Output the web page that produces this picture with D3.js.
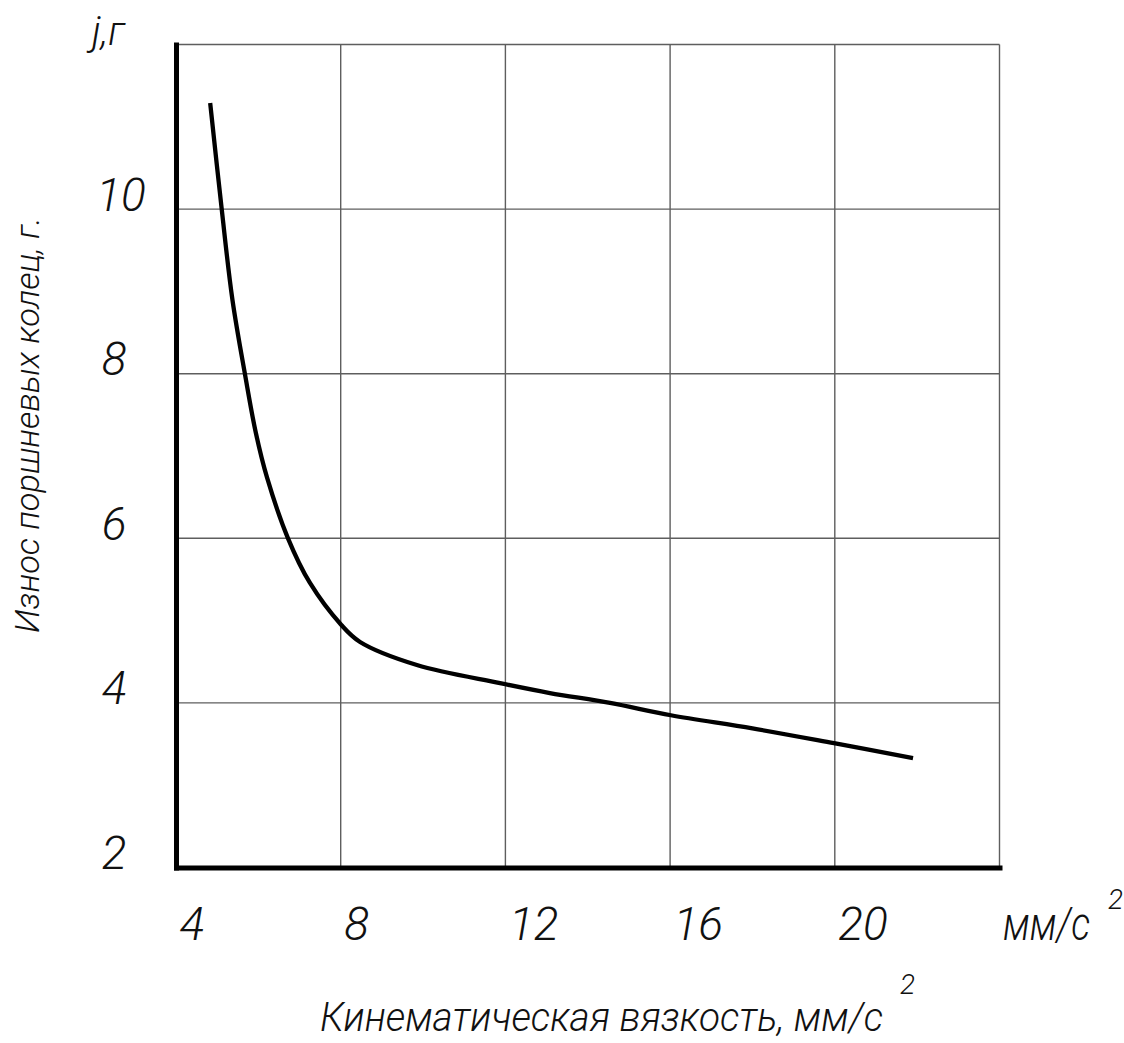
<!DOCTYPE html>
<html><head><meta charset="utf-8">
<script src="https://cdn.jsdelivr.net/npm/d3@7"></script>
<style>
html,body{margin:0;padding:0;background:#fff;}
svg{display:block;}
text{font-family:Roboto,"Noto Sans","DejaVu Sans",sans-serif;font-style:italic;font-weight:300;fill:#111;}
</style></head><body>
<svg id="chart" width="1124" height="1043"></svg>
<script>
// Data
const viscosity = [4.83, 5.11, 5.37, 5.68, 5.94, 6.21, 6.72, 7.25, 8.01, 8.47, 9.85, 11.87, 13.08, 14.54, 16.02, 18.00, 19.98, 21.90];
const wear      = [11.29, 10.00, 8.90, 7.98, 7.28, 6.74, 6.00, 5.46, 4.95, 4.74, 4.46, 4.24, 4.12, 4.00, 3.85, 3.69, 3.51, 3.33];
const xTicks = [4, 8, 12, 16, 20];
const yTicks = [2, 4, 6, 8, 10];
const xGrid = [8, 12, 16, 20, 24];
const yGrid = [4, 6, 8, 10, 12];
const xDomain = [4, 24];
const yDomain = [2, 12];
const yUnitLabel = "j,г";
const xUnitLabel = "мм/с";
const xTitle = "Кинематическая вязкость, мм/с";
const yTitle = "Износ поршневых колец, г.";
const superscript = "2";

const svg = d3.select("#chart");
const x = d3.scaleLinear().domain(xDomain).range([176, 999.5]);
const y = d3.scaleLinear().domain(yDomain).range([867.5, 44.5]);

// grid
const grid = svg.append("g").attr("stroke", "#5e5e5e").attr("stroke-width", 1.4);
grid.selectAll("line.v").data(xGrid).join("line").attr("class", "v")
  .attr("x1", d => x(d)).attr("x2", d => x(d)).attr("y1", y(yDomain[0])).attr("y2", y(yDomain[1]));
grid.selectAll("line.h").data(yGrid).join("line").attr("class", "h")
  .attr("x1", x(xDomain[0])).attr("x2", x(xDomain[1])).attr("y1", d => y(d)).attr("y2", d => y(d));

// axes
const gy = svg.append("g").attr("transform", `translate(${x(xDomain[0])},0)`)
  .call(d3.axisLeft(y).tickValues(yTicks).tickSize(0).tickSizeOuter(0).tickFormat(d3.format("d")));
const gx = svg.append("g").attr("transform", `translate(0,${y(yDomain[0])})`)
  .call(d3.axisBottom(x).tickValues(xTicks).tickSize(0).tickSizeOuter(0).tickFormat(d3.format("d")));
[gy, gx].forEach(g => {
  g.select(".domain").attr("stroke", "#000").attr("stroke-width", 5).attr("stroke-linecap", "square");
  g.selectAll("text").attr("font-family", null).attr("font-size", 46).attr("fill", "#111");
});
gy.selectAll(".tick text").attr("text-anchor", "middle").attr("x", d => d >= 10 ? -55 : -62).attr("dy", 0).attr("y", 1);
gx.selectAll(".tick text").attr("text-anchor", "start").attr("x", 3).attr("dy", 0).attr("y", 72);

// curve
const pts = viscosity.map((v, i) => [v, wear[i]]);
svg.append("path").datum(pts)
  .attr("fill", "none").attr("stroke", "#000").attr("stroke-width", 4.3)
  .attr("stroke-linejoin", "round")
  .attr("d", d3.line().x(d => x(d[0])).y(d => y(d[1])).curve(d3.curveCatmullRom.alpha(0.5)));

// labels
svg.append("text").attr("x", 92).attr("y", 45).attr("font-size", 40).text(yUnitLabel);
svg.append("text").attr("x", 1003).attr("y", 940).attr("font-size", 46)
  .attr("textLength", 87).attr("lengthAdjust", "spacingAndGlyphs").text(xUnitLabel);
svg.append("text").attr("x", 1108).attr("y", 909).attr("font-size", 28).text(superscript);

svg.append("text").attr("x", 320).attr("y", 1031).attr("font-size", 40)
  .attr("textLength", 563).attr("lengthAdjust", "spacingAndGlyphs").text(xTitle);
svg.append("text").attr("x", 900).attr("y", 994).attr("font-size", 28).text(superscript);

svg.append("text").attr("transform", "translate(39,633) rotate(-90)")
  .attr("font-size", 34).attr("textLength", 416).attr("lengthAdjust", "spacingAndGlyphs").text(yTitle);
</script>
</body></html>
